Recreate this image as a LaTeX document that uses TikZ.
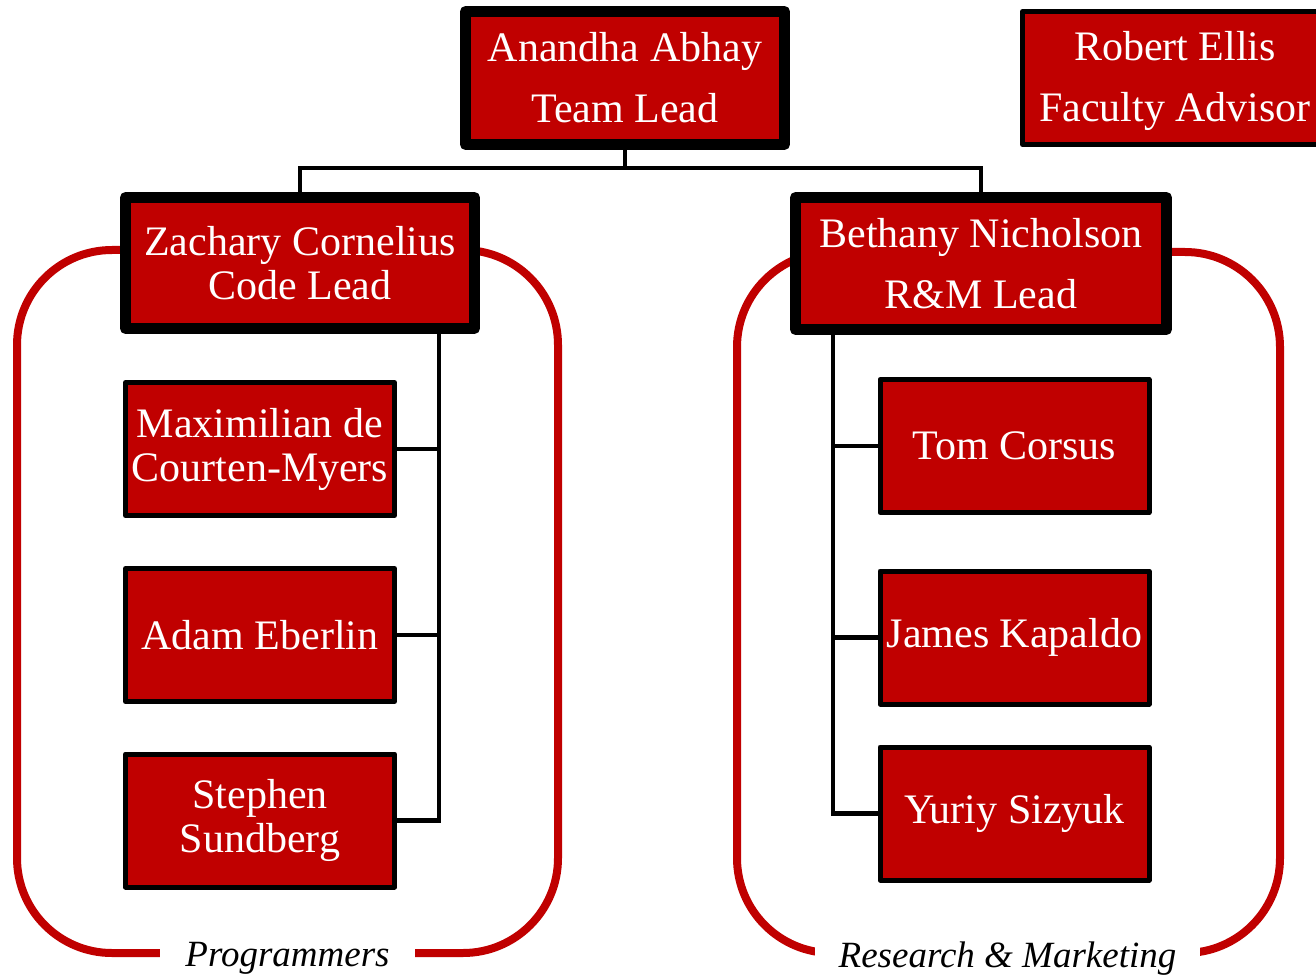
\documentclass[tikz,border=0pt]{standalone}
\usepackage{fontspec}
\setmainfont{Liberation Serif}
\definecolor{boxred}{HTML}{C00000}
\begin{document}
\begin{tikzpicture}[x=1pt,y=-1pt,
  lead/.style={draw=black, line width=11pt, fill=boxred, text=white, align=center, inner sep=0pt, line join=round, font=\fontsize{42}{61}\selectfont},
  member/.style={draw=black, line width=5pt, fill=boxred, text=white, align=center, inner sep=0pt, line join=round, font=\fontsize{42}{44}\selectfont, minimum width=269pt, minimum height=133pt},
  conn/.style={draw=black, line width=4.5pt},
  group/.style={draw=boxred, line width=8pt, rounded corners=95pt},
  grouplabel/.style={fill=white, inner sep=0pt, minimum height=30pt, font=\fontsize{37}{40}\selectfont\itshape}
]
\useasboundingbox (0,0) rectangle (1316,976);
\clip (0,0) rectangle (1316,976);

% group outlines
\draw[group] (17,250) rectangle (558,953);
\draw[group] (737,252) rectangle (1280,953);
\node[grouplabel, minimum width=255pt] (plab) at (287.5,958.5) {Programmers};
\node[grouplabel, minimum width=385pt] (rlab) at (1007.5,958.5) {Research \& Marketing};

% lead boxes
\node[lead, minimum width=319pt, minimum height=133pt] (top) at (625,78) {Anandha Abhay\\Team Lead};
\node[member, font=\fontsize{42}{61}\selectfont, minimum width=305pt] (rob) at (1175,78) {\rule{0pt}{36pt}Robert Ellis\\Faculty Advisor};
\node[lead, font=\fontsize{42}{44}\selectfont, minimum width=349pt, minimum height=131pt] (zach) at (300,263) {Zachary Cornelius\\Code Lead};
\node[lead, minimum width=371pt, minimum height=132pt] (beth) at (981,263.5) {Bethany Nicholson\\R\&M Lead};

% members
\node[member] (max) at (260,449) {Maximilian de\\Courten-Myers};
\node[member] (adam) at (260,635) {Adam Eberlin};
\node[member] (steph) at (260,820.5) {Stephen\\Sundberg};
\node[member] (tom) at (1014.5,446) {Tom Corsus};
\node[member] (james) at (1014.5,637.5) {James Kapaldo};
\node[member] (yuriy) at (1014.5,813.5) {Yuriy Sizyuk};

% connectors
\coordinate (bus) at (625,168);
\coordinate (ltrunk) at (439,0);
\coordinate (rtrunk) at (833,0);
\draw[conn] (top.south) -- (bus);
\draw[conn] (zach.north) |- (bus) -| (beth.north);
\draw[conn] (zach.south -| ltrunk) -- (ltrunk |- steph.east) -- (steph.east);
\draw[conn] (max.east) -- (max.east -| ltrunk);
\draw[conn] (adam.east) -- (adam.east -| ltrunk);
\draw[conn] (beth.south -| rtrunk) -- (rtrunk |- yuriy.west) -- (yuriy.west);
\draw[conn] (tom.west) -- (tom.west -| rtrunk);
\draw[conn] (james.west) -- (james.west -| rtrunk);
\end{tikzpicture}
\end{document}
